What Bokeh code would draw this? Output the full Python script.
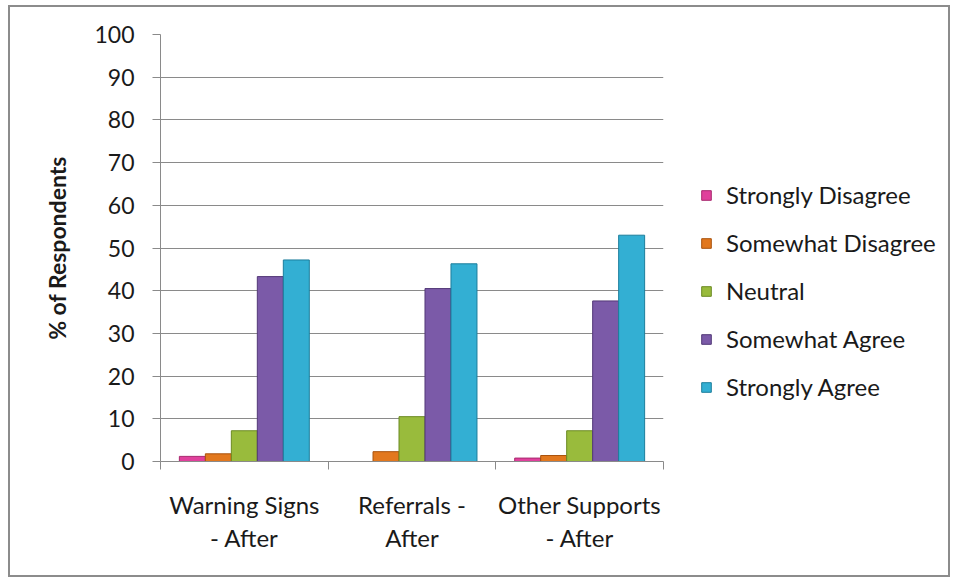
from bokeh.plotting import figure
from bokeh.models import Range1d, FixedTicker, Legend, LegendItem, ColumnDataSource
from bokeh.transform import dodge
from bokeh.embed import file_html
from bokeh.resources import INLINE

# Survey results: percentage of respondents per answer, per question group
categories = ["Warning Signs\n- After", "Referrals -\nAfter", "Other Supports\n- After"]
responses = ["Strongly Disagree", "Somewhat Disagree", "Neutral", "Somewhat Agree", "Strongly Agree"]
strongly_disagree = [1.2, 0.0, 0.8]
somewhat_disagree = [1.8, 2.3, 1.4]
neutral = [7.2, 10.5, 7.2]
somewhat_agree = [43.3, 40.5, 37.6]
strongly_agree = [47.2, 46.3, 53.0]
y_ticks = [0, 10, 20, 30, 40, 50, 60, 70, 80, 90, 100]

colors = ["#E0409C", "#E2781E", "#99BB3C", "#7B5AA8", "#33AFD3"]
edges = ["#A8286F", "#A9520C", "#6B8A22", "#523877", "#1C7E9C"]

FONT = "Lato"
TEXT = "#1a1a1a"
GRID = "#8a8a8a"

centers = [i + 0.5 for i in range(len(categories))]
source = ColumnDataSource(data=dict(
    x=centers,
    sd=strongly_disagree,
    swd=somewhat_disagree,
    neu=neutral,
    swa=somewhat_agree,
    sa=strongly_agree,
))

p = figure(
    frame_width=503, frame_height=427,
    x_range=Range1d(0, len(categories)), y_range=Range1d(0, 100),
    output_backend="svg", toolbar_location=None,
    min_border_left=150, min_border_right=273,
    min_border_top=27, min_border_bottom=114,
    background_fill_color="white", border_fill_color="white",
)
# outer chart border; the page area is kept to 938 x 568 inside it
p.styles = {
    "border": "2px solid #8c8c8c",
    "margin-left": "8px",
    "margin-top": "5px",
    "width": "938px",
    "height": "568px",
    "overflow": "hidden",
    "box-sizing": "content-box",
}
p.outline_line_color = None

bar_w = 0.155
offsets = [-2 * bar_w, -bar_w, 0.0, bar_w, 2 * bar_w]
fields = ["sd", "swd", "neu", "swa", "sa"]
items = []
for name, field, off, col, edge in zip(responses, fields, offsets, colors, edges):
    r = p.vbar(x=dodge("x", off, range=p.x_range), top=field, bottom=0, width=bar_w,
               source=source, fill_color=col, line_color=edge, line_width=1)
    items.append(LegendItem(label=name, renderers=[r]))

legend = Legend(
    items=items, location=(37, 60), orientation="vertical",
    label_text_font=FONT, label_text_font_size="24px", label_text_color=TEXT,
    glyph_width=12, glyph_height=12, label_height=20, label_standoff=14,
    spacing=19, padding=0, margin=0,
    border_line_color=None, background_fill_alpha=0,
)
p.add_layout(legend, "right")

# y axis
p.yaxis.ticker = FixedTicker(ticks=y_ticks)
p.yaxis.axis_label = "% of Respondents"
p.yaxis.axis_label_text_font = FONT
p.yaxis.axis_label_text_font_style = "bold"
p.yaxis.axis_label_text_font_size = "23px"
p.yaxis.axis_label_text_color = TEXT
p.yaxis.axis_label_standoff = 20
p.yaxis.major_label_text_font = FONT
p.yaxis.major_label_text_font_size = "23px"
p.yaxis.major_label_text_color = TEXT
p.yaxis.major_label_standoff = 18
p.yaxis.major_tick_out = 8
p.yaxis.major_tick_in = 0
p.yaxis.minor_tick_line_color = None
p.yaxis.axis_line_color = GRID
p.yaxis.major_tick_line_color = GRID

# x axis: labels at group centres, separator ticks at group boundaries
p.xaxis.ticker = FixedTicker(ticks=centers, minor_ticks=list(range(len(categories) + 1)))
p.xaxis.major_label_overrides = {c: lab for c, lab in zip(centers, categories)}
p.xaxis.major_label_text_font = FONT
p.xaxis.major_label_text_font_size = "24px"
p.xaxis.major_label_text_line_height = 1.15
p.xaxis.major_label_text_color = TEXT
p.xaxis.major_label_standoff = 20
p.xaxis.major_tick_line_color = None
p.xaxis.minor_tick_out = 8
p.xaxis.minor_tick_in = 0
p.xaxis.minor_tick_line_color = GRID
p.xaxis.axis_line_color = GRID

p.xgrid.grid_line_color = None
p.ygrid.grid_line_color = GRID
p.ygrid.grid_line_width = 1

open("out.html", "w").write(file_html(p, INLINE))
